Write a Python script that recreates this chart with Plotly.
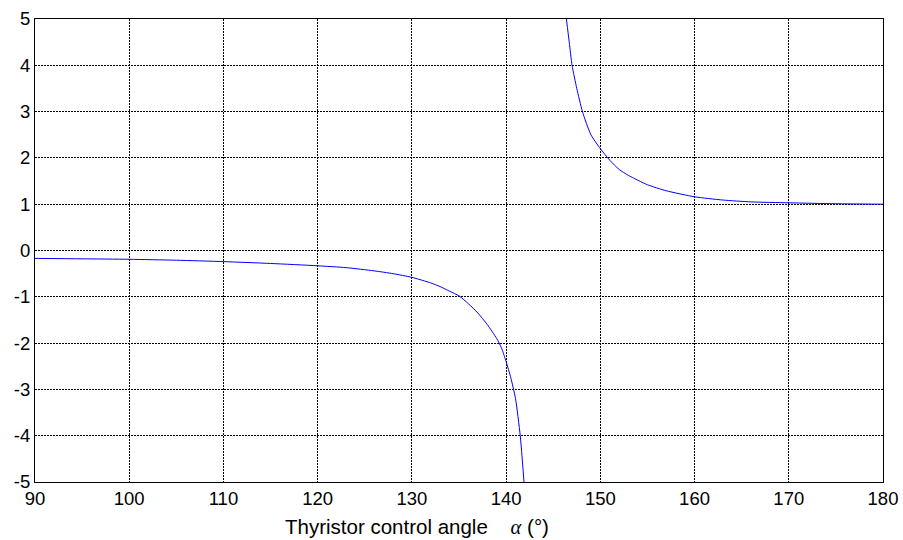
import plotly.graph_objects as go

# Left branch (capacitive region)
x_left = [90, 95, 100, 105, 110, 115, 120, 123, 126, 128, 130, 132, 133, 134, 135,
          136, 137, 138, 139, 139.5, 140, 140.5, 141, 141.5, 141.9]
y_left = [-0.17, -0.18, -0.19, -0.21, -0.24, -0.28, -0.33, -0.37, -0.44, -0.50, -0.58,
          -0.70, -0.78, -0.88, -0.98, -1.15, -1.35, -1.60, -1.90, -2.10, -2.40, -2.75,
          -3.20, -4.00, -5.00]

# Right branch (inductive region)
x_right = [146.4, 146.7, 147.0, 147.5, 148.1, 149.0, 150.0, 151, 152, 153, 155, 157,
           160, 163, 166, 170, 175, 180]
y_right = [5.0, 4.5, 4.0, 3.5, 3.0, 2.5, 2.2, 1.95, 1.75, 1.62, 1.42, 1.29,
           1.16, 1.09, 1.05, 1.03, 1.01, 1.0]

x_ticks = [90, 100, 110, 120, 130, 140, 150, 160, 170, 180]
y_ticks = [-5, -4, -3, -2, -1, 0, 1, 2, 3, 4, 5]
y_ticktext = [str(v) for v in y_ticks]
x_label = "Thyristor control angle&nbsp;&nbsp;&nbsp;&nbsp;<span style='font-family:Liberation Serif'><i>α</i></span> (°)"

fig = go.Figure()
fig.add_trace(go.Scatter(x=x_left, y=y_left, mode="lines", line=dict(color="#0000ff", width=1, shape="spline", smoothing=0.6), showlegend=False))
fig.add_trace(go.Scatter(x=x_right, y=y_right, mode="lines", line=dict(color="#0000ff", width=1, shape="spline", smoothing=0.6), showlegend=False))

axis_common = dict(showline=True, linecolor="black", linewidth=1, mirror=True,
                   showgrid=True, gridcolor="black", gridwidth=1, griddash="2px,1px",
                   zeroline=False, ticks="", automargin=False,
                   tickfont=dict(family="Liberation Sans, Arial", size=18.5, color="black"))

fig.update_xaxes(range=[90, 180], tickvals=x_ticks, ticktext=[str(v) for v in x_ticks], **axis_common)
fig.update_yaxes(range=[-5, 5], tickvals=y_ticks, ticktext=y_ticktext, **axis_common)

fig.add_annotation(text=x_label, xref="paper", yref="paper", x=0.4505, y=-0.096,
                   xanchor="center", yanchor="middle", showarrow=False,
                   font=dict(family="Liberation Sans, Arial", size=20.5, color="black"))

fig.update_layout(width=903, height=540, margin=dict(l=35, r=20, t=19, b=58, autoexpand=False),
                  plot_bgcolor="white", paper_bgcolor="white")

fig.write_html("out.html")
